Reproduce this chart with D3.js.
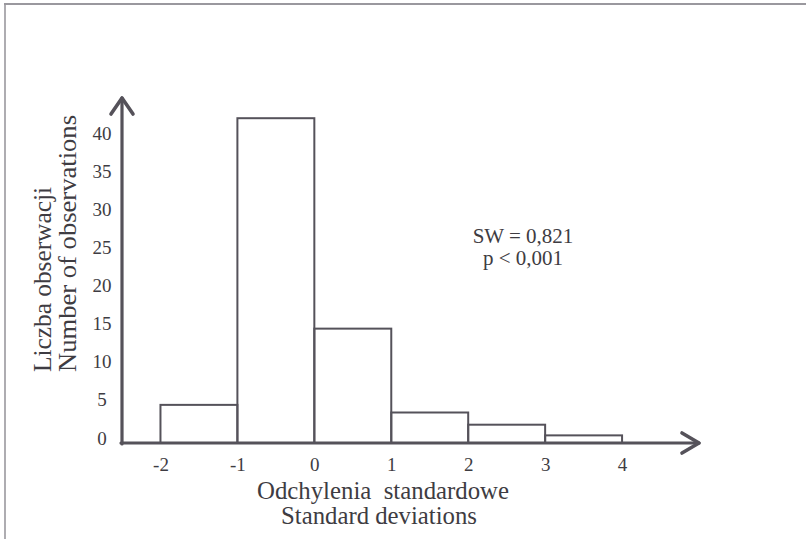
<!DOCTYPE html>
<html>
<head>
<meta charset="utf-8">
<script src="https://cdn.jsdelivr.net/npm/d3@7/dist/d3.min.js"></script>
<style>
  html, body { margin: 0; padding: 0; background: #ffffff; }
  svg { display: block; }
  text { font-family: "Liberation Serif", "Times New Roman", serif; fill: #3e3c42; }
</style>
</head>
<body>
<svg id="chart" width="806" height="539"></svg>
<script>
// Histogram of standardised residuals
const binStarts = [-2, -1, 0, 1, 2, 3];
const binWidth = 1;
const counts = [5, 42.6, 15, 4, 2.4, 1];
const xTickValues = [-2, -1, 0, 1, 2, 3, 4];
const yTickValues = [0, 5, 10, 15, 20, 25, 30, 35, 40];
const yTitleLines = ["Liczba obserwacji", "Number of observations"];
const xTitleLines = ["Odchylenia  standardowe", "Standard deviations"];
const statLines = ["SW = 0,821", "p < 0,001"];

const ink = "#55525a";
const svg = d3.select("#chart");

// page frame (top and left rules)
svg.append("line").attr("x1", 4).attr("y1", 4).attr("x2", 806).attr("y2", 4)
  .attr("stroke", "#9a989e").attr("stroke-width", 2);
svg.append("line").attr("x1", 5).attr("y1", 4).attr("x2", 5).attr("y2", 539)
  .attr("stroke", "#9a989e").attr("stroke-width", 1.6);

const x = d3.scaleLinear().domain([-2.5, 5]).range([122, 699]);
const y = d3.scaleLinear().domain([0, 45.25]).range([443, 98]);

// bars
svg.append("g").selectAll("rect")
  .data(binStarts.map((s, i) => ({ s, c: counts[i] })))
  .join("rect")
  .attr("x", d => x(d.s))
  .attr("y", d => y(d.c))
  .attr("width", d => x(d.s + binWidth) - x(d.s))
  .attr("height", d => y(0) - y(d.c))
  .attr("fill", "none")
  .attr("stroke", ink)
  .attr("stroke-width", 2);

// axis lines with open arrowheads
const [x0, x1] = x.range();
const [yb, yt] = y.range();
const axes = svg.append("g").attr("stroke", ink).attr("fill", "none")
  .attr("stroke-linecap", "round").attr("stroke-linejoin", "round");
axes.append("line").attr("x1", x0 - 1).attr("y1", yb).attr("x2", x1).attr("y2", yb).attr("stroke-width", 3.2);
axes.append("line").attr("x1", x0).attr("y1", yb + 1).attr("x2", x0).attr("y2", yt).attr("stroke-width", 3.2);
axes.append("path").attr("d", `M${x1 - 17},${yb - 10}L${x1},${yb}L${x1 - 17},${yb + 10}`).attr("stroke-width", 3.6);
axes.append("path").attr("d", `M${x0 - 11},${yt + 16}L${x0},${yt}L${x0 + 11},${yt + 16}`).attr("stroke-width", 3.6);

// tick labels (plain hyphen for negatives)
const xAxis = svg.append("g").attr("transform", `translate(0,${yb})`)
  .call(d3.axisBottom(x).tickValues(xTickValues).tickSize(0).tickPadding(15).tickFormat(d => String(d)));
xAxis.select(".domain").remove();
xAxis.selectAll("text").attr("font-size", 19).attr("font-family", null).style("fill", "#3e3c42");

const yAxis = svg.append("g").attr("transform", `translate(${x0},0)`)
  .call(d3.axisLeft(y).tickValues(yTickValues).tickSize(0).tickFormat(d => String(d)));
yAxis.select(".domain").remove();
yAxis.selectAll("text").attr("font-size", 19).attr("font-family", null)
  .attr("text-anchor", "middle").attr("x", -20).attr("y", -5).style("fill", "#3e3c42");

// axis titles
const yTitle = svg.append("g").attr("transform", "translate(0,372) rotate(-90)");
yTitle.selectAll("text").data(yTitleLines).join("text")
  .attr("x", 0).attr("y", (d, i) => 51 + i * 25)
  .attr("font-size", 26)
  .attr("textLength", (d, i) => [185, 257][i])
  .attr("lengthAdjust", "spacingAndGlyphs")
  .text(d => d);

svg.append("g").selectAll("text").data(xTitleLines).join("text")
  .attr("x", (d, i) => [383, 379][i]).attr("y", (d, i) => 499 + i * 25)
  .attr("text-anchor", "middle")
  .attr("font-size", 25)
  .attr("textLength", (d, i) => [252, 196][i])
  .attr("lengthAdjust", "spacingAndGlyphs")
  .style("white-space", "pre")
  .text(d => d);

// normality test annotation
svg.append("g").selectAll("text").data(statLines).join("text")
  .attr("x", 523).attr("y", (d, i) => 243 + i * 22)
  .attr("text-anchor", "middle")
  .attr("font-size", 21)
  .text(d => d);
</script>
</body>
</html>
